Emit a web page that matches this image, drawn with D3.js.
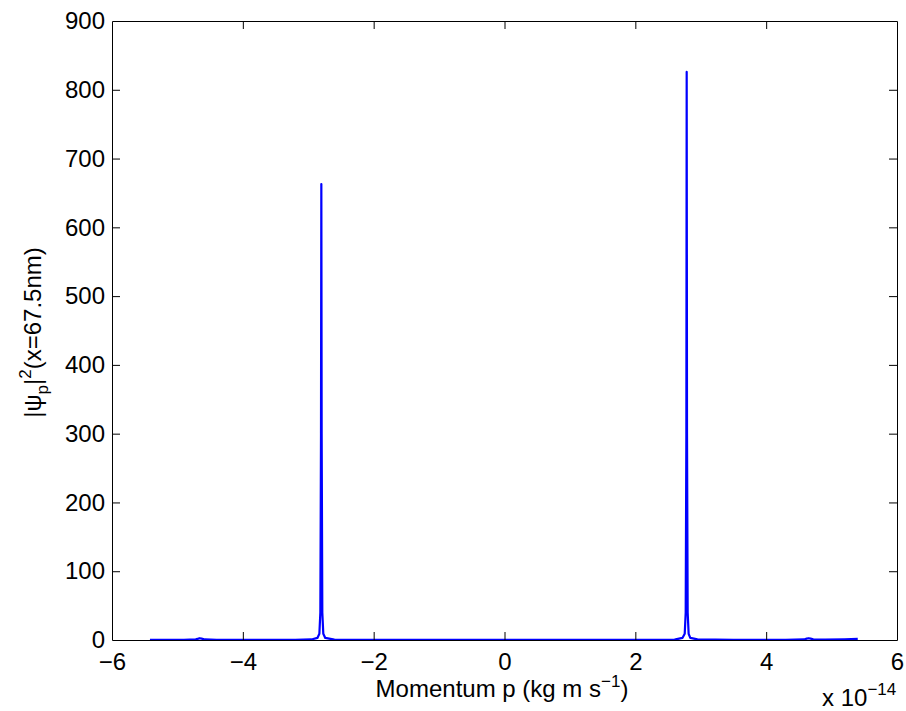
<!DOCTYPE html>
<html><head><meta charset="utf-8">
<script src="https://cdn.jsdelivr.net/npm/d3@7"></script>
<style>body{margin:0;background:#fff;} text{font-family:"Liberation Sans",Arial,sans-serif;fill:#000;}</style>
</head><body>
<svg id="c" width="906" height="711"></svg>
<script>
// momentum in units of 1e-14 kg m s^-1
const momentum = [-5.42, -5.1, -4.9, -4.72, -4.68, -4.66, -4.63, -4.58, -4.4, -3.8, -3.2, -2.95, -2.86, -2.83, -2.815, -2.805, -2.80, -2.795, -2.785, -2.77, -2.74, -2.6, -1.5, 0, 1.5, 2.6, 2.72, 2.755, 2.77, 2.78, 2.785, 2.79, 2.80, 2.815, 2.84, 2.95, 3.5, 4.3, 4.58, 4.62, 4.65, 4.68, 4.72, 4.9, 5.2, 5.40];
const density  = [0.4, 0.3, 0.4, 1.0, 2.0, 2.6, 2.0, 0.8, 0.3, 0.2, 0.3, 0.8, 3, 9, 40, 300, 663, 300, 40, 9, 3, 0.6, 0.2, 0.1, 0.2, 0.6, 3, 9, 40, 300, 826, 300, 40, 9, 3, 0.8, 0.3, 0.3, 0.8, 2.0, 2.6, 2.0, 1.0, 0.6, 1.0, 1.6];
const xTicks = [-6, -4, -2, 0, 2, 4, 6];
const yTicks = [0, 100, 200, 300, 400, 500, 600, 700, 800, 900];

const svg = d3.select("#c");
const L = 112, R = 897, T = 21, B = 640;
const x = d3.scaleLinear().domain([-6, 6]).range([L, R]);
const y = d3.scaleLinear().domain([0, 900]).range([B, T]);
const fs = 24;

// data line
const pts = momentum.map((m, i) => [m, density[i]]);
svg.append("path").datum(pts)
  .attr("d", d3.line().x(d => x(d[0])).y(d => y(d[1])))
  .attr("fill", "none").attr("stroke", "#0000ff").attr("stroke-width", 2.2)
  .attr("stroke-linejoin", "round");

// axes: ticks inside on all sides
const tl = 8;
const gBottom = svg.append("g").attr("transform", `translate(0,${B})`)
  .call(d3.axisBottom(x).tickValues(xTicks).tickSizeInner(-tl).tickSizeOuter(0).tickPadding(13)
    .tickFormat(d => d < 0 ? "\u2212" + Math.abs(d) : d));
const gTop = svg.append("g").attr("transform", `translate(0,${T})`)
  .call(d3.axisTop(x).tickValues(xTicks).tickSizeInner(-tl).tickSizeOuter(0).tickFormat(""));
const gLeft = svg.append("g").attr("transform", `translate(${L},0)`)
  .call(d3.axisLeft(y).tickValues(yTicks).tickSizeInner(-tl).tickSizeOuter(0).tickPadding(7));
const gRight = svg.append("g").attr("transform", `translate(${R},0)`)
  .call(d3.axisRight(y).tickValues(yTicks).tickSizeInner(-tl).tickSizeOuter(0).tickFormat(""));
[gBottom, gTop, gLeft, gRight].forEach(g => {
  g.select(".domain").attr("stroke", "#000").attr("stroke-width", 1);
  g.selectAll(".tick line").attr("stroke", "#000").attr("stroke-width", 1);
  g.selectAll(".tick text").attr("font-size", fs).attr("font-family", "Liberation Sans, Arial, sans-serif").attr("fill", "#000");
});
// remove end ticks that overlap frame
gBottom.selectAll(".tick line").filter(d => d === -6 || d === 6).remove();
gTop.selectAll(".tick line").filter(d => d === -6 || d === 6).remove();
gLeft.selectAll(".tick line").filter(d => d === 0 || d === 900).remove();
gRight.selectAll(".tick line").filter(d => d === 0 || d === 900).remove();

// x label
const xl = svg.append("text").attr("x", 502).attr("y", 697).attr("text-anchor", "middle").attr("font-size", fs);
xl.append("tspan").text("Momentum p (kg m s");
xl.append("tspan").attr("dy", -10).attr("font-size", 17).text("\u22121");
xl.append("tspan").attr("dy", 10).text(")");

// exponent
const ex = svg.append("text").attr("x", 822).attr("y", 706).attr("font-size", fs);
ex.append("tspan").text("x 10");
ex.append("tspan").attr("dy", -11).attr("font-size", 17).text("\u221214");

// y label
const yl = svg.append("text").attr("transform", `translate(41,${(T + B) / 2 + 2}) rotate(-90)`)
  .attr("text-anchor", "middle").attr("font-size", fs);
yl.append("tspan").text("|\u03c8");
yl.append("tspan").attr("dy", 7).attr("font-size", 17).text("p");
yl.append("tspan").attr("dy", -7).text("|");
yl.append("tspan").attr("dy", -10).attr("font-size", 17).text("2");
yl.append("tspan").attr("dy", 10).text("(x=67.5nm)");
</script>
</body></html>
